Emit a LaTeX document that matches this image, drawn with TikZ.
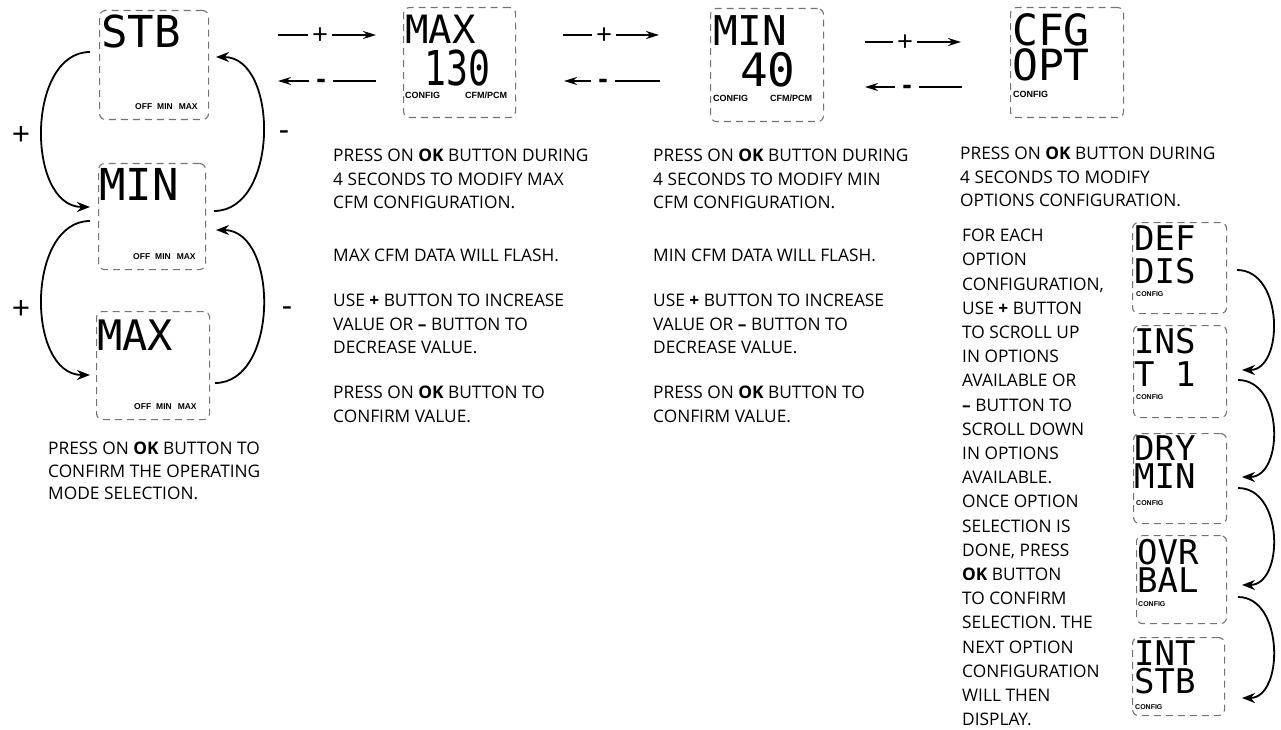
\documentclass[tikz,border=0pt]{standalone}
\usepackage{fontspec}
\setmainfont{Open Sans}
\newfontfamily\lcdfont{DejaVu Sans Mono}
\newfontfamily\tagfont{Liberation Sans}
\usetikzlibrary{arrows.meta}
\begin{document}
\begin{tikzpicture}[x=1pt,y=-1pt,
  lcdbox/.style={draw=black!55, line width=1.1pt, dash pattern=on 7pt off 5pt, rounded corners=6pt, inner sep=0pt, anchor=north west},
  seg/.style={font=\lcdfont\fontsize{#1}{#1}\selectfont, inner sep=0pt, anchor=north west},
  tag/.style={font=\tagfont\bfseries\fontsize{#1}{#1}\selectfont, inner sep=0pt, anchor=west},
  body/.style={font=\fontsize{17.3}{#1}\selectfont, align=left, inner sep=0pt, anchor=north west},
  ln/.style={line width=2pt},
  arr/.style={line width=2pt, -{Stealth[length=13pt,width=8pt]}},
  carr/.style={line width=1.8pt, -{Stealth[length=13pt,width=10pt]}},
  pm/.style={font=\fontsize{#1}{#1}\selectfont, inner xsep=4pt, inner ysep=0pt, anchor=base},
  mm/.style={font=\bfseries\fontsize{#1}{#1}\selectfont, inner xsep=7pt, inner ysep=0pt, anchor=base},
]
\useasboundingbox (0,0) rectangle (1281,730);

% ---------- left column boxes ----------
\node[lcdbox, minimum width=109pt, minimum height=109pt] (stb) at (99,10) {};
\node[seg=44] (stbT) at (101,15) {STB};
\node[tag=8.5] (stbK) at (135,107) {OFF\hspace{5pt}MIN\hspace{6pt}MAX};

\node[lcdbox, minimum width=107pt, minimum height=106pt] (minL) at (98,163) {};
\node[seg=44] (minLT) at (99,168) {MIN};
\node[tag=8.5] (minLK) at (133,257) {OFF\hspace{5pt}MIN\hspace{6pt}MAX};

\node[lcdbox, minimum width=113pt, minimum height=108pt] (maxL) at (96,311) {};
\node[seg=42] (maxLT) at (97,320) {MAX};
\node[tag=8.5] (maxLK) at (134,407) {OFF\hspace{5pt}MIN\hspace{6pt}MAX};

% left curves
\coordinate (l1s) at (90,52);  \coordinate (l1e) at (90,207);
\coordinate (r1s) at (214,211); \coordinate (r1e) at (216,57);
\coordinate (l2s) at (90,221); \coordinate (l2e) at (90,375);
\coordinate (r2s) at (215,383); \coordinate (r2e) at (216,230);
\draw[carr] (l1s) .. controls (26,52) and (26,207) .. (l1e);
\draw[carr] (r1s) .. controls (279,211) and (279,57) .. (r1e);
\draw[carr] (l2s) .. controls (26,221) and (26,375) .. (l2e);
\draw[carr] (r2s) .. controls (279,383) and (279,230) .. (r2e);
\node[pm=32] (lp1) at (21,146) {+};
\node[pm=32] (lp2) at (21,319) {+};
\node[pm=32] (lm1) at (284,141) {-};
\node[pm=32] (lm2) at (287,316) {-};

\node[body=22.5] (txtL) at (48,442) {PRESS ON \textbf{OK} BUTTON TO\\CONFIRM THE OPERATING\\MODE SELECTION.};

% ---------- MAX 130 ----------
\node[lcdbox, minimum width=112pt, minimum height=110pt] (max130) at (403,7) {};
\node[seg=39] (maxT) at (405,15) {MAX};
\node[seg=48] (maxV) at (424,50) {\scalebox{0.76}[1]{130}};
\node[tag=9] (maxK1) at (405,95) {CONFIG};
\node[tag=9] (maxK2) at (465,95) {CFM/PCM};

\coordinate (f1a) at (278,35); \coordinate (f1b) at (376,35);
\node[pm=28] (f1p) at (320,44.5) {+};
\draw[ln] (f1a) -- (f1a -| f1p.west); \draw[arr] (f1a -| f1p.east) -- (f1b);
\coordinate (b1a) at (376,81); \coordinate (b1b) at (278,81);
\node[mm=28] (b1p) at (321,89) {-};
\draw[ln] (b1a) -- (b1a -| b1p.east); \draw[arr] (b1a -| b1p.west) -- (b1b);

\node[body=23.3] (txtM1) at (333,149) {PRESS ON \textbf{OK} BUTTON DURING\\4 SECONDS TO MODIFY MAX\\CFM CONFIGURATION.\\[30pt]MAX CFM DATA WILL FLASH.\\[22pt]USE \textbf{+} BUTTON TO INCREASE\\VALUE OR \textbf{--} BUTTON TO\\DECREASE VALUE.\\[22pt]PRESS ON \textbf{OK} BUTTON TO\\CONFIRM VALUE.};

% ---------- MIN 40 ----------
\node[lcdbox, minimum width=113pt, minimum height=113pt] (min40) at (710,8) {};
\node[seg=41] (minT) at (713,15) {MIN};
\node[seg=46] (minV) at (740,52) {40};
\node[tag=9] (minK1) at (713,98) {CONFIG};
\node[tag=9] (minK2) at (770,98) {CFM/PCM};

\coordinate (f2a) at (563,35); \coordinate (f2b) at (659,35);
\node[pm=28] (f2p) at (604,44.5) {+};
\draw[ln] (f2a) -- (f2a -| f2p.west); \draw[arr] (f2a -| f2p.east) -- (f2b);
\coordinate (b2a) at (660,81); \coordinate (b2b) at (564,81);
\node[mm=28] (b2p) at (603,89) {-};
\draw[ln] (b2a) -- (b2a -| b2p.east); \draw[arr] (b2a -| b2p.west) -- (b2b);

\node[body=23.3] (txtM2) at (653,149) {PRESS ON \textbf{OK} BUTTON DURING\\4 SECONDS TO MODIFY MIN\\CFM CONFIGURATION.\\[30pt]MIN CFM DATA WILL FLASH.\\[22pt]USE \textbf{+} BUTTON TO INCREASE\\VALUE OR \textbf{--} BUTTON TO\\DECREASE VALUE.\\[22pt]PRESS ON \textbf{OK} BUTTON TO\\CONFIRM VALUE.};

% ---------- CFG OPT ----------
\node[lcdbox, minimum width=113pt, minimum height=110pt] (cfg) at (1010,7) {};
\node[seg=43] (cfgT) at (1012,13) {CFG};
\node[seg=43] (cfgO) at (1012,48) {OPT};
\node[tag=9] (cfgK) at (1013,94) {CONFIG};

\coordinate (f3a) at (865,42); \coordinate (f3b) at (961,42);
\node[pm=28] (f3p) at (905,51.5) {+};
\draw[ln] (f3a) -- (f3a -| f3p.west); \draw[arr] (f3a -| f3p.east) -- (f3b);
\coordinate (b3a) at (962,87); \coordinate (b3b) at (865,87);
\node[mm=28] (b3p) at (907,95) {-};
\draw[ln] (b3a) -- (b3a -| b3p.east); \draw[arr] (b3a -| b3p.west) -- (b3b);

\node[body=23.5] (txtR1) at (960,147) {PRESS ON \textbf{OK} BUTTON DURING\\4 SECONDS TO MODIFY\\OPTIONS CONFIGURATION.};
\node[body=24.2] (txtR2) at (962,229) {FOR EACH\\OPTION\\CONFIGURATION,\\USE \textbf{+} BUTTON\\TO SCROLL UP\\IN OPTIONS\\AVAILABLE OR\\\textbf{--} BUTTON TO\\SCROLL DOWN\\IN OPTIONS\\AVAILABLE.\\ONCE OPTION\\SELECTION IS\\DONE, PRESS\\\textbf{OK} BUTTON\\TO CONFIRM\\SELECTION. THE\\NEXT OPTION\\CONFIGURATION\\WILL THEN\\DISPLAY.};

% ---------- option boxes ----------
\node[lcdbox, minimum width=94pt, minimum height=91pt] (o1) at (1132,222) {};
\node[seg=34] (o1a) at (1134,226) {DEF};
\node[seg=34] (o1b) at (1134,258) {DIS};
\node[tag=7] (o1k) at (1136,294) {CONFIG};

\node[lcdbox, minimum width=93pt, minimum height=92pt] (o2) at (1133,325) {};
\node[seg=34] (o2a) at (1134,328) {INS};
\node[seg=34] (o2b) at (1134,362) {T 1};
\node[tag=7] (o2k) at (1136,397) {CONFIG};

\node[lcdbox, minimum width=93pt, minimum height=90pt] (o3) at (1133,433) {};
\node[seg=34] (o3a) at (1134,436) {DRY};
\node[seg=34] (o3b) at (1134,464) {MIN};
\node[tag=7] (o3k) at (1136,503) {CONFIG};

\node[lcdbox, minimum width=90pt, minimum height=88pt] (o4) at (1136,535) {};
\node[seg=34] (o4a) at (1137,539) {OVR};
\node[seg=34] (o4b) at (1137,568) {BAL};
\node[tag=7] (o4k) at (1138,604) {CONFIG};

\node[lcdbox, minimum width=92pt, minimum height=78pt] (o5) at (1132,637) {};
\node[seg=34] (o5a) at (1134,641) {INT};
\node[seg=34] (o5b) at (1134,668) {STB};
\node[tag=7] (o5k) at (1135,707) {CONFIG};

\coordinate (c1s) at (1237,270); \coordinate (c1e) at (1242,370);
\coordinate (c2s) at (1238,380); \coordinate (c2e) at (1242,477);
\coordinate (c3s) at (1238,488); \coordinate (c3e) at (1242,585);
\coordinate (c4s) at (1238,597); \coordinate (c4e) at (1242,698);
\draw[carr] (c1s) .. controls (1284,270) and (1284,370) .. (c1e);
\draw[carr] (c2s) .. controls (1284,380) and (1284,477) .. (c2e);
\draw[carr] (c3s) .. controls (1284,488) and (1284,585) .. (c3e);
\draw[carr] (c4s) .. controls (1284,597) and (1284,698) .. (c4e);
\end{tikzpicture}
\end{document}
